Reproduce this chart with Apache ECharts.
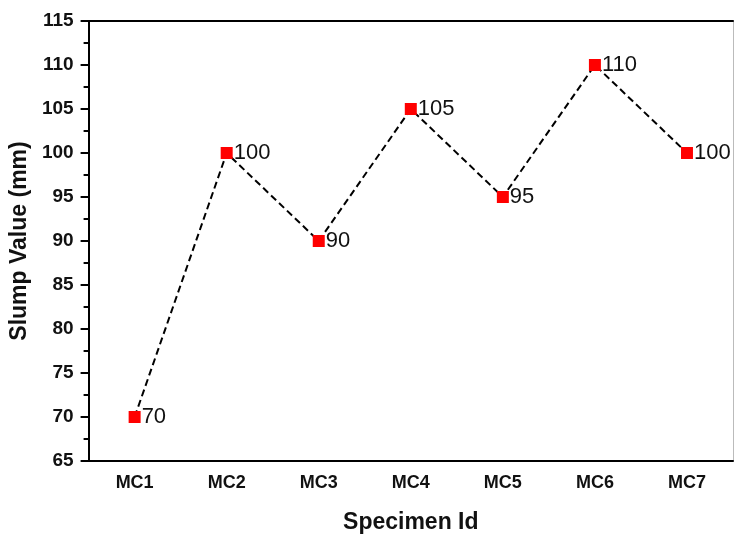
<!DOCTYPE html>
<html><head><meta charset="utf-8">
<script src="https://cdn.jsdelivr.net/npm/echarts@6/dist/echarts.min.js"></script>
<style>html,body{margin:0;padding:0;background:#fff}#c{width:734px;height:539px}</style>
</head><body><div id="c"></div>
<script>
var categories = ['MC1','MC2','MC3','MC4','MC5','MC6','MC7'];
var slumpValues = [70, 100, 90, 105, 95, 110, 100];
var yMin = 65, yMax = 115, yStep = 5;
var xTitle = 'Specimen Id';
var yTitle = 'Slump Value (mm)';

var FONT = '"Liberation Sans", Arial, sans-serif';
var chart = echarts.init(document.getElementById('c'));
chart.setOption({
  animation: false,
  backgroundColor: '#fff',
  grid: {left: 87, right: 1, top: 21, bottom: 73},
  xAxis: [{
    type: 'category', data: categories, position: 'bottom',
    axisLine: {lineStyle: {color: '#000', width: 2}},
    axisTick: {alignWithLabel: true, length: 5, lineStyle: {color: '#000', width: 2}},
    axisLabel: {color: '#111', fontFamily: FONT, fontWeight: 'bold', fontSize: 18, margin: 13},
    name: xTitle, nameLocation: 'middle', nameGap: 50,
    nameTextStyle: {color: '#111', fontFamily: FONT, fontWeight: 'bold', fontSize: 23},
    splitLine: {show: false}
  }, {
    type: 'category', data: categories, position: 'bottom',
    axisLine: {show: false},
    axisTick: {alignWithLabel: false, length: 3, lineStyle: {color: '#000', width: 2}},
    axisLabel: {show: false}, splitLine: {show: false}
  }, {
    type: 'category', data: categories, position: 'top',
    axisLine: {lineStyle: {color: '#000', width: 2}},
    axisTick: {alignWithLabel: false, inside: true, length: 3, lineStyle: {color: '#000', width: 2}},
    axisLabel: {show: false}, splitLine: {show: false}
  }],
  yAxis: [{
    type: 'value', min: yMin, max: yMax, interval: yStep, position: 'left',
    axisLine: {show: true, lineStyle: {color: '#000', width: 2}},
    axisTick: {show: true, length: 8, lineStyle: {color: '#000', width: 2}},
    minorTick: {show: true, splitNumber: 2, length: 5, lineStyle: {color: '#000', width: 2}},
    axisLabel: {color: '#111', fontFamily: FONT, fontWeight: 'bold', fontSize: 19, margin: 15},
    splitLine: {show: false},
    name: yTitle, nameLocation: 'middle', nameGap: 52,
    nameTextStyle: {color: '#111', fontFamily: FONT, fontWeight: 'bold', fontSize: 23}
  }, {
    type: 'value', min: yMin, max: yMax, interval: yStep, position: 'right',
    axisLine: {show: true, lineStyle: {color: '#bbb', width: 1}},
    axisTick: {show: false}, axisLabel: {show: false}, splitLine: {show: false}
  }],
  series: [{
    type: 'line', data: slumpValues, xAxisIndex: 0, yAxisIndex: 0,
    symbol: 'rect', symbolSize: 12,
    itemStyle: {color: '#ff0000'},
    lineStyle: {color: '#000', width: 2, type: [7, 4]},
    label: {show: true, position: 'right', distance: 1, color: '#111',
      fontFamily: FONT, fontSize: 22}
  }]
});
</script></body></html>
